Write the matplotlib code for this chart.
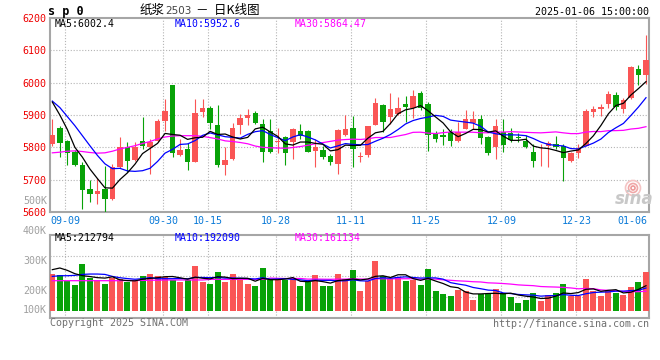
import matplotlib
matplotlib.use('Agg')
import matplotlib.pyplot as plt
import matplotlib.transforms as mtransforms
from matplotlib.patches import Ellipse
from matplotlib.ticker import MultipleLocator, LinearLocator

# ---------------- data ----------------
dates = ['09-05', '09-06', '09-09', '09-10', '09-11', '09-12', '09-13', '09-18', '09-19', '09-20',
         '09-23', '09-24', '09-25', '09-26', '09-27', '09-30', '10-08', '10-09', '10-10', '10-11',
         '10-14', '10-15', '10-16', '10-17', '10-18', '10-21', '10-22', '10-23', '10-24', '10-25',
         '10-28', '10-29', '10-30', '10-31', '11-01', '11-04', '11-05', '11-06', '11-07', '11-08',
         '11-11', '11-12', '11-13', '11-14', '11-15', '11-18', '11-19', '11-20', '11-21', '11-22',
         '11-25', '11-26', '11-27', '11-28', '11-29', '12-02', '12-03', '12-04', '12-05', '12-06',
         '12-09', '12-10', '12-11', '12-12', '12-13', '12-16', '12-17', '12-18', '12-19', '12-20',
         '12-23', '12-24', '12-25', '12-26', '12-27', '12-30', '12-31', '01-02', '01-03', '01-06']

opens = [5810, 5860, 5820, 5785, 5744, 5672, 5655, 5672, 5640, 5739,
         5802, 5762, 5821, 5800, 5821, 5882, 5992, 5775, 5795, 5754,
         5910, 5921, 5869, 5744, 5764, 5869, 5892, 5905, 5872, 5849,
         5818, 5831, 5818, 5849, 5849, 5790, 5792, 5772, 5747, 5838,
         5859, 5769, 5777, 5869, 5930, 5895, 5903, 5933, 5923, 5969,
         5933, 5841, 5838, 5848, 5821, 5857, 5874, 5889, 5833, 5800,
         5848, 5844, 5831, 5821, 5785, 5778, 5805, 5810, 5805, 5759,
         5783, 5805, 5910, 5920, 5933, 5961, 5918, 5954, 6043, 6025]
highs = [5887, 5865, 5823, 5793, 5754, 5698, 5705, 5742, 5749, 5831,
         5816, 5816, 5894, 5826, 5889, 5949, 5992, 5826, 5814, 5949,
         5949, 5928, 5930, 5800, 5874, 5903, 5918, 5911, 5889, 5889,
         5860, 5836, 5860, 5872, 5854, 5826, 5805, 5780, 5857, 5900,
         5897, 5787, 5865, 5954, 5933, 5969, 5956, 5959, 5976, 5974,
         5940, 5851, 5857, 5857, 5877, 5916, 5913, 5900, 5836, 5887,
         5889, 5859, 5844, 5838, 5810, 5810, 5821, 5836, 5810, 5785,
         5810, 5920, 5928, 5933, 5974, 5971, 5954, 6051, 6056, 6148]
lows = [5805, 5770, 5744, 5742, 5608, 5631, 5626, 5598, 5638, 5736,
        5724, 5759, 5795, 5718, 5818, 5851, 5770, 5773, 5729, 5754,
        5895, 5857, 5739, 5713, 5761, 5841, 5870, 5872, 5756, 5783,
        5783, 5746, 5764, 5826, 5785, 5739, 5764, 5744, 5718, 5836,
        5739, 5754, 5770, 5869, 5848, 5872, 5900, 5877, 5892, 5915,
        5790, 5816, 5807, 5803, 5816, 5857, 5857, 5810, 5777, 5764,
        5785, 5816, 5816, 5797, 5739, 5741, 5739, 5795, 5695, 5754,
        5767, 5805, 5895, 5897, 5923, 5915, 5906, 5951, 5992, 5997]
closes = [5838, 5814, 5783, 5744, 5669, 5655, 5666, 5640, 5739, 5802,
          5759, 5800, 5803, 5818, 5881, 5913, 5783, 5792, 5754, 5906,
          5921, 5874, 5744, 5761, 5860, 5890, 5899, 5875, 5787, 5787,
          5821, 5783, 5857, 5834, 5787, 5800, 5770, 5754, 5853, 5857,
          5795, 5772, 5865, 5936, 5879, 5918, 5921, 5926, 5959, 5921,
          5838, 5826, 5833, 5821, 5846, 5889, 5889, 5829, 5783, 5865,
          5807, 5824, 5829, 5800, 5759, 5780, 5813, 5800, 5766, 5783,
          5797, 5913, 5920, 5925, 5964, 5925, 5947, 6048, 6025, 6071]
volumes = [312, 303, 247, 219, 396, 275, 256, 228, 275, 267,
           242, 247, 295, 312, 295, 284, 256, 239, 256, 379,
           239, 228, 329, 242, 312, 256, 228, 205, 362, 256,
           256, 256, 267, 205, 239, 303, 211, 205, 312, 270,
           340, 169, 247, 422, 295, 267, 284, 247, 261, 219,
           354, 169, 143, 126, 177, 169, 93, 143, 143, 185,
           149, 118, 67, 93, 152, 84, 132, 152, 228, 126,
           126, 270, 169, 126, 169, 152, 132, 202, 244, 323]  # thousands

# moving-average values before a full window exists
ma5_head = [5940, 5900, 5855, 5800]
ma10_head = [5943, 5923, 5895, 5867, 5836, 5805, 5775, 5749, 5734]
ma30_head = [5783, 5785, 5788, 5789, 5787, 5784, 5782, 5783, 5788, 5795,
             5800, 5805, 5812, 5818, 5826, 5832, 5835, 5836, 5836, 5836,
             5834, 5830, 5826, 5820, 5818, 5815, 5811, 5804, 5800]
vma5_head = [346, 360, 340, 312]
vma10_head = [289, 295, 295, 298, 306, 309, 309, 306, 289]
vma30_head = [253, 253, 253, 253, 253, 253, 253, 253, 253, 253,
              255, 255, 255, 257, 257, 259, 259, 259, 259, 259,
              259, 264, 264, 264, 264, 264, 264, 264, 264]

tick_dates = ['09-09', '09-30', '10-15', '10-28', '11-11', '11-25', '12-09', '12-23', '01-06']
price_ticks = [5600, 5700, 5800, 5900, 6000, 6100, 6200]
vol_tick_labels = ['500K', '400K', '300K', '200K', '100K']

price_legend = ['MA5:6002.4', 'MA10:5952.6', 'MA30:5864.47']
vol_legend = ['MA5:212794', 'MA10:192090', 'MA30:161134']


def moving_avg(vals, n, head):
    out = list(head)
    for i in range(n - 1, len(vals)):
        out.append(sum(vals[i - n + 1:i + 1]) / n)
    return out


# ---------------- styling ----------------
RED = '#fa5555'
GREEN = '#08a208'
GRID = '#b4b4b4'
FRAME = '#a6a6a6'
MONO = 'DejaVu Sans Mono'
W, H = 660, 360

fig = plt.figure(figsize=(6.6, 3.6), dpi=100)
fig.patch.set_facecolor('white')


def px(x, y):
    return x / W, 1 - y / H


ax = fig.add_axes([50 / W, 1 - 212 / H, 599 / W, 194 / H])
axv = fig.add_axes([50 / W, 1 - 318 / H, 599 / W, 83.3 / H])

n = len(closes)
xs = list(range(n))
xlim = (-0.31, 79.4)

cols = [RED if c >= o else GREEN for o, c in zip(opens, closes)]

# candles
ax.vlines(xs, lows, highs, colors=cols, linewidth=0.8, zorder=3)
ax.bar(xs, [abs(c - o) if abs(c - o) > 0 else 1.2 for o, c in zip(opens, closes)],
       bottom=[min(o, c) for o, c in zip(opens, closes)],
       width=0.72, color=cols, linewidth=0, zorder=3)

ma5 = moving_avg(closes, 5, ma5_head)
ma10 = moving_avg(closes, 10, ma10_head)
ma30 = moving_avg(closes, 30, ma30_head)
ax.plot(xs, ma30, color='#ff00ff', lw=0.9, zorder=4)
ax.plot(xs, ma10, color='#0000ff', lw=0.9, zorder=5)
ax.plot(xs, ma5, color='#000000', lw=0.9, zorder=6)

ax.set_xlim(*xlim)
ax.set_ylim(price_ticks[0], price_ticks[-1])
ax.yaxis.set_major_locator(MultipleLocator(100))
ax.set_yticks(price_ticks)
ax.set_yticklabels([str(t) for t in price_ticks], color='#ee0000', fontfamily=MONO, fontsize=7.2)
ax.tick_params(axis='y', length=0, pad=2.5)
ax.set_xticks([])
for t in price_ticks[1:-1]:
    ax.axhline(t, color=GRID, lw=0.8, ls=(0, (1, 1.6)), zorder=1)

# volume
axv.bar(xs, volumes, width=0.8, color=cols, linewidth=0, zorder=3)
vma5 = moving_avg(volumes, 5, vma5_head)
vma10 = moving_avg(volumes, 10, vma10_head)
vma30 = moving_avg(volumes, 30, vma30_head)
axv.plot(xs, vma30, color='#ff00ff', lw=0.9, zorder=4)
axv.plot(xs, vma10, color='#0000ff', lw=0.9, zorder=5)
axv.plot(xs, vma5, color='#000000', lw=0.9, zorder=6)
axv.set_xlim(*xlim)
axv.set_ylim(-61.5, 640.7)
axv.yaxis.set_major_locator(LinearLocator(5))
axv.set_yticklabels([])
axv.tick_params(axis='y', length=0)
axv.set_xticks([])
for t in axv.get_yticks()[1:-1]:
    axv.axhline(t, color=GRID, lw=0.8, ls=(0, (1, 1.6)), zorder=1)

# vertical date grid + labels
trans = mtransforms.blended_transform_factory(ax.transData, ax.transAxes)
for d in tick_dates:
    i = dates.index(d)
    if d == tick_dates[-1]:
        ax.text(0.998, -0.046, d, transform=ax.transAxes, ha='right', va='center',
                color='#0a7ad8', fontfamily=MONO, fontsize=7.2)
        continue
    ax.axvline(i - 0.25, color=GRID, lw=0.8, ls=(0, (1, 1.6)), zorder=1)
    axv.axvline(i - 0.25, color=GRID, lw=0.8, ls=(0, (1, 1.6)), zorder=1)
    ax.text(i - 0.25, -0.046, d, transform=trans, ha='center', va='center',
            color='#0a7ad8', fontfamily=MONO, fontsize=7.2)

for a in (ax, axv):
    for s in a.spines.values():
        s.set_color(FRAME)
        s.set_linewidth(1.5)

# volume scale labels (drawn at the places the reference shows them)
for lab, y in zip(vol_tick_labels, [200.5, 231, 260.7, 290.7, 310]):
    fig.text(*px(47, y), lab, ha='right', va='center', color='#a0a0a0',
             fontfamily=MONO, fontsize=7.2)

# legends
for lab, x, c in zip(price_legend, [54.5, 174.5, 295], ['#000000', '#0000ff', '#ff00ff']):
    fig.text(*px(x, 24), lab, ha='left', va='center', color=c, fontfamily=MONO, fontsize=7.1)
for lab, x, c in zip(vol_legend, [54.5, 174.5, 295], ['#000000', '#0000ff', '#ff00ff']):
    fig.text(*px(x, 238.3), lab, ha='left', va='center', color=c, fontfamily=MONO, fontsize=7.1)

# header
fig.text(*px(48, 11), 's p 0', ha='left', va='center', color='black',
         fontfamily=MONO, fontweight='bold', fontsize=8.5)
fig.text(*px(140, 10.5), '纸浆', ha='left', va='center', color='black',
         fontfamily=['Noto Sans CJK SC', 'DejaVu Sans'], fontsize=9)
fig.text(*px(165.5, 11), '2503', ha='left', va='center', color='#444444',
         fontfamily=['DejaVu Sans'], fontsize=7.5)
fig.text(*px(196, 10.5), '－  日K线图', ha='left', va='center', color='black',
         fontfamily=['Noto Sans CJK SC', 'DejaVu Sans'], fontsize=9)
fig.text(*px(649, 12), '2025-01-06 15:00:00', ha='right', va='center', color='black',
         fontfamily=MONO, fontsize=7.2)

# footer
fig.text(*px(49.5, 323.5), 'Copyright 2025 SINA.COM', ha='left', va='center', color='#707070',
         fontfamily=MONO, fontsize=7.2)
fig.text(*px(649, 324), 'http://finance.sina.com.cn', ha='right', va='center', color='#707070',
         fontfamily=MONO, fontsize=7.2)

# sina watermark (eye logo drawn as rings, word as text)
for r, c in [(7.5, '#f4c4c4'), (4.5, '#f0a8a8'), (2.0, '#ee9a9a')]:
    fig.add_artist(Ellipse(px(633, 188), 2 * r / W, 2 * r / H, transform=fig.transFigure,
                           facecolor='none', edgecolor=c, lw=1.2))
fig.text(*px(634, 199), 'sina', ha='center', va='center', color='#c8c8c8',
         fontfamily='DejaVu Sans', fontstyle='italic', fontweight='bold', fontsize=12)

fig.savefig('out.png', dpi=100, facecolor='white')
